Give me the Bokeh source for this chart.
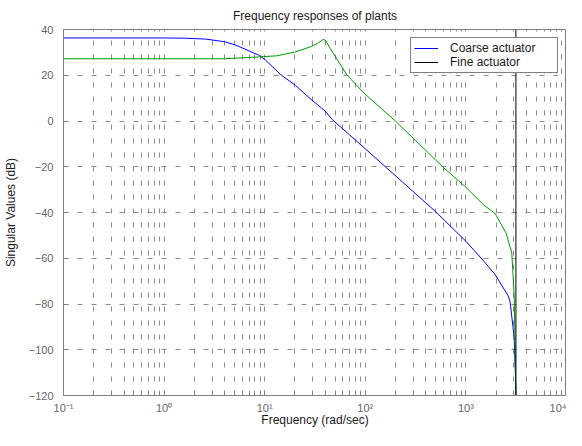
from bokeh.plotting import figure
from bokeh.models import FixedTicker, Range1d, Legend, LegendItem
from bokeh.embed import file_html
from bokeh.resources import INLINE

# ---- data ----
coarse_w = [0.1, 1.0, 1.6, 2.6, 4.05, 5.2, 8.7, 10.2, 14.4, 20.2, 28.3, 39.8, 47.0,
            98.0, 502.0, 991.0, 1510.0, 1950.0, 2630.0, 2750.0, 3020.0, 3100.0, 3141.6]
coarse_db = [36.3, 36.3, 36.2, 35.8, 34.6, 33.1, 28.8, 26.6, 20.3, 15.6, 9.8, 4.4, 0.6,
             -11.8, -39.7, -52.4, -61.3, -67.1, -76.4, -79.0, -94.7, -110.0, -120.0]

fine_w = [0.1, 4.0, 8.7, 13.2, 20.2, 28.3, 33.6, 38.0, 40.0, 47.0, 66.0, 98.0, 199.0,
          597.0, 991.0, 1510.0, 1950.0, 2510.0, 2860.0, 3020.0, 3141.6]
fine_db = [27.2, 27.2, 28.0, 28.5, 30.2, 32.4, 33.9, 35.6, 35.4, 30.2, 20.0, 12.0, 0.0,
           -20.3, -28.8, -36.8, -40.4, -49.0, -57.7, -76.4, -120.0]

nyquist_w = [3141.6, 3141.6]
nyquist_db = [-120.0, 40.0]

x_major = [0.1, 1, 10, 100, 1000, 10000]
x_labels = ["10\u207b\u00b9", "10\u2070", "10\u00b9", "10\u00b2", "10\u00b3", "10\u2074"]
x_minor = [m * d for d in [0.1, 1, 10, 100, 1000] for m in range(2, 10)]
y_major = [-120, -100, -80, -60, -40, -20, 0, 20, 40]

FONT = "Liberation Sans"
GRID = "#8c8c8c"

p = figure(width=566, height=430, x_axis_type="log", output_backend="svg",
           toolbar_location=None, title="Frequency responses of plants",
           min_border_left=56, min_border_right=0, min_border_top=23, min_border_bottom=35)
p.x_range = Range1d(0.1, 10000)
p.y_range = Range1d(-120, 40)

p.title.align = "center"
p.title.text_font = FONT
p.title.text_font_size = "12px"
p.title.text_font_style = "normal"
p.title.text_color = "#1a1a1a"
p.title.standoff = 13

p.xaxis.ticker = FixedTicker(ticks=x_major, minor_ticks=x_minor)
p.xaxis.major_label_overrides = dict(zip(x_major, x_labels))
p.yaxis.ticker = FixedTicker(ticks=y_major, minor_ticks=[])

for ax in (p.xaxis, p.yaxis):
    ax.major_tick_in = 5
    ax.major_tick_out = 0
    ax.minor_tick_in = 3
    ax.minor_tick_out = 0
    ax.major_tick_line_color = "#808080"
    ax.minor_tick_line_color = "#808080"
    ax.axis_line_color = "#808080"
    ax.major_label_text_font = FONT
    ax.major_label_text_font_size = "11px"
    ax.major_label_text_color = "#666666"
    ax.axis_label_text_font = FONT
    ax.axis_label_text_font_size = "12px"
    ax.axis_label_text_font_style = "normal"
    ax.axis_label_text_color = "#1a1a1a"

p.xaxis.axis_label = "Frequency (rad/sec)"
p.yaxis.axis_label = "Singular Values (dB)"
p.xaxis.major_label_standoff = 6
p.xaxis.axis_label_standoff = -4
p.yaxis.major_label_standoff = 10
p.yaxis.axis_label_standoff = 8

p.xgrid.grid_line_color = GRID
p.xgrid.grid_line_dash = "5 9"
p.xgrid.minor_grid_line_color = GRID
p.xgrid.minor_grid_line_dash = "5 9"
p.ygrid.grid_line_color = GRID
p.ygrid.grid_line_dash = "5 9"

p.outline_line_color = "#808080"
p.outline_line_width = 1
p.background_fill_color = "white"
p.border_fill_color = "white"

r_coarse = p.line(coarse_w, coarse_db, line_color="#0000ff", line_width=1)
r_fine = p.line(fine_w, fine_db, line_color="#009a00", line_width=1)
r_nyq = p.line(nyquist_w, nyquist_db, line_color="#000000", line_width=1)

legend = Legend(items=[LegendItem(label="Coarse actuator", renderers=[r_coarse]),
                       LegendItem(label="Fine actuator", renderers=[r_nyq])],
                location="top_right")
legend.margin = 8
legend.padding = 3
legend.spacing = 0
legend.glyph_width = 24
legend.glyph_height = 12
legend.label_height = 12
legend.label_width = 104
legend.label_standoff = 12
legend.label_text_font = FONT
legend.label_text_font_size = "12px"
legend.label_text_color = "#1a1a1a"
legend.border_line_color = "#000000"
legend.border_line_width = 1
legend.background_fill_color = "white"
legend.background_fill_alpha = 1.0
p.add_layout(legend, "center")

open("out.html", "w").write(file_html(p, INLINE))
